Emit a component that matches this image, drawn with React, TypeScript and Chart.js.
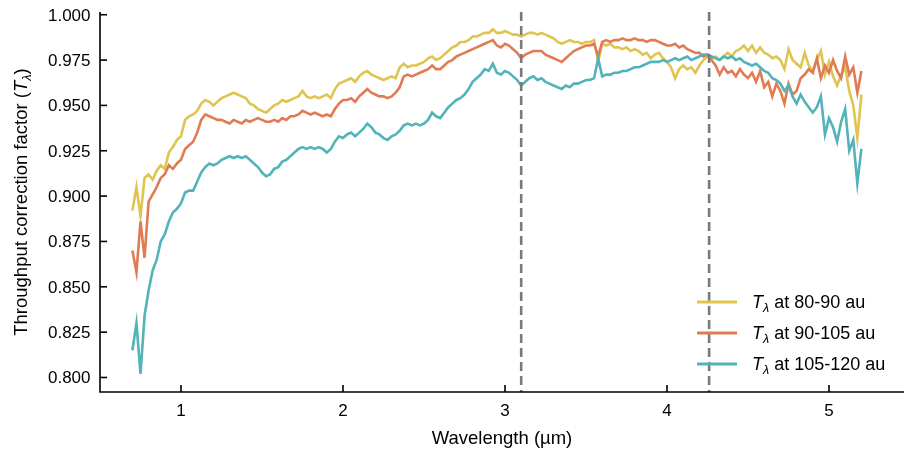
import React, { useEffect, useRef } from "react";
import { Chart, registerables } from "chart.js";

Chart.register(...registerables);

// Shared wavelength grid in µm (0.700 … 5.200, step 0.025)
const WAVELENGTH_START = 0.7;
const WAVELENGTH_STEP = 0.025;
const WAVELENGTH: number[] = Array.from({ length: 181 }, (_, i) =>
  Math.round((WAVELENGTH_START + WAVELENGTH_STEP * i) * 1000) / 1000
);

// Throughput correction factor for the 80-90 au annulus
const T_80_90 = [
  0.892, 0.905, 0.889, 0.910, 0.912, 0.909, 0.914, 0.917, 0.915, 0.924,
  0.927, 0.931, 0.933, 0.942, 0.944, 0.945, 0.947, 0.951, 0.953, 0.952,
  0.950, 0.952, 0.954, 0.955, 0.956, 0.957, 0.956, 0.955, 0.954, 0.951,
  0.950, 0.948, 0.947, 0.946, 0.948, 0.950, 0.951, 0.953, 0.952, 0.953,
  0.954, 0.955, 0.958, 0.955, 0.954, 0.955, 0.954, 0.955, 0.956, 0.954,
  0.959, 0.962, 0.963, 0.964, 0.965, 0.963, 0.966, 0.968, 0.969, 0.967,
  0.966, 0.965, 0.964, 0.965, 0.966, 0.965, 0.971, 0.973, 0.971, 0.972,
  0.972, 0.973, 0.974, 0.976, 0.977, 0.975, 0.976, 0.978, 0.980, 0.982,
  0.983, 0.985, 0.985, 0.986, 0.988, 0.988, 0.989, 0.990, 0.990, 0.992,
  0.990, 0.990, 0.991, 0.990, 0.989, 0.989, 0.988, 0.989, 0.990, 0.990,
  0.989, 0.990, 0.989, 0.988, 0.987, 0.985, 0.984, 0.985, 0.986, 0.985,
  0.985, 0.984, 0.985, 0.985, 0.986, 0.974, 0.984, 0.983, 0.984, 0.982,
  0.982, 0.981, 0.982, 0.980, 0.981, 0.980, 0.978, 0.979, 0.976, 0.978,
  0.979, 0.976, 0.974, 0.971, 0.965, 0.970, 0.972, 0.970, 0.971, 0.968,
  0.972, 0.975, 0.977, 0.976, 0.977, 0.975, 0.977, 0.979, 0.977, 0.980,
  0.981, 0.983, 0.980, 0.983, 0.979, 0.982, 0.979, 0.978, 0.976, 0.977,
  0.975, 0.970, 0.981, 0.975, 0.973, 0.971, 0.979, 0.972, 0.969, 0.975,
  0.980, 0.967, 0.974, 0.966, 0.961, 0.967, 0.971, 0.958, 0.950, 0.932,
  0.956,
];

// Throughput correction factor for the 90-105 au annulus
const T_90_105 = [
  0.870, 0.858, 0.886, 0.866, 0.897, 0.901, 0.905, 0.910, 0.912, 0.917,
  0.915, 0.918, 0.920, 0.926, 0.928, 0.930, 0.935, 0.942, 0.945, 0.944,
  0.943, 0.942, 0.942, 0.941, 0.940, 0.942, 0.941, 0.940, 0.942, 0.941,
  0.942, 0.943, 0.942, 0.941, 0.941, 0.942, 0.941, 0.943, 0.942, 0.944,
  0.944, 0.945, 0.947, 0.946, 0.945, 0.946, 0.945, 0.944, 0.945, 0.944,
  0.948, 0.951, 0.953, 0.953, 0.954, 0.952, 0.955, 0.957, 0.959, 0.957,
  0.956, 0.955, 0.955, 0.954, 0.955, 0.957, 0.960, 0.966, 0.967, 0.966,
  0.967, 0.968, 0.969, 0.970, 0.972, 0.970, 0.970, 0.972, 0.974, 0.975,
  0.977, 0.978, 0.979, 0.980, 0.981, 0.982, 0.983, 0.984, 0.985, 0.986,
  0.983, 0.982, 0.984, 0.983, 0.981, 0.979, 0.976, 0.978, 0.979, 0.980,
  0.980, 0.980, 0.978, 0.977, 0.976, 0.975, 0.974, 0.976, 0.978, 0.980,
  0.981, 0.982, 0.983, 0.983, 0.984, 0.977, 0.985, 0.986, 0.985, 0.986,
  0.986, 0.987, 0.986, 0.986, 0.987, 0.986, 0.986, 0.985, 0.986, 0.986,
  0.985, 0.984, 0.983, 0.983, 0.984, 0.982, 0.983, 0.981, 0.980, 0.979,
  0.979, 0.977, 0.978, 0.975, 0.972, 0.967, 0.971, 0.968, 0.969, 0.966,
  0.970, 0.967, 0.965, 0.968, 0.963, 0.969, 0.960, 0.963, 0.955, 0.962,
  0.958, 0.951, 0.962, 0.956, 0.958, 0.965, 0.967, 0.970, 0.968, 0.976,
  0.965, 0.972, 0.968, 0.975, 0.969, 0.965, 0.977, 0.967, 0.971, 0.957,
  0.969,
];

// Throughput correction factor for the 105-120 au annulus
const T_105_120 = [
  0.815, 0.830, 0.802, 0.834, 0.848, 0.859, 0.865, 0.875, 0.879, 0.886,
  0.891, 0.893, 0.896, 0.902, 0.903, 0.903, 0.908, 0.913, 0.916, 0.918,
  0.917, 0.918, 0.920, 0.921, 0.922, 0.921, 0.922, 0.921, 0.922, 0.920,
  0.918, 0.916, 0.913, 0.911, 0.912, 0.915, 0.916, 0.919, 0.920, 0.922,
  0.924, 0.926, 0.927, 0.926, 0.927, 0.926, 0.927, 0.926, 0.924, 0.926,
  0.930, 0.933, 0.932, 0.934, 0.935, 0.933, 0.935, 0.937, 0.940, 0.938,
  0.935, 0.934, 0.932, 0.931, 0.933, 0.934, 0.936, 0.939, 0.940, 0.939,
  0.940, 0.939, 0.940, 0.942, 0.946, 0.944, 0.943, 0.946, 0.949, 0.951,
  0.953, 0.954, 0.956, 0.959, 0.963, 0.965, 0.967, 0.970, 0.969, 0.973,
  0.968, 0.967, 0.969, 0.968, 0.966, 0.964, 0.961, 0.963, 0.965, 0.966,
  0.964, 0.965, 0.963, 0.962, 0.961, 0.960, 0.959, 0.961, 0.960, 0.962,
  0.962, 0.963, 0.964, 0.964, 0.965, 0.976, 0.966, 0.967, 0.967, 0.968,
  0.968, 0.969, 0.969, 0.970, 0.971, 0.971, 0.972, 0.973, 0.974, 0.974,
  0.974, 0.975, 0.974, 0.975, 0.976, 0.975, 0.976, 0.977, 0.975, 0.976,
  0.977, 0.978, 0.978, 0.977, 0.976, 0.975, 0.977, 0.976, 0.977, 0.975,
  0.976, 0.974, 0.973, 0.972, 0.973, 0.971, 0.969, 0.968, 0.965, 0.964,
  0.962, 0.958, 0.961, 0.955, 0.951, 0.956, 0.952, 0.949, 0.946, 0.949,
  0.955, 0.934, 0.943, 0.938, 0.930, 0.941, 0.948, 0.925, 0.931, 0.907,
  0.926,
];

const SERIES_VALUES = [T_80_90, T_90_105, T_105_120];
const SERIES_RANGES = ["80-90 au", "90-105 au", "105-120 au"];
const SERIES_COLORS = ["#dfc550", "#e07b53", "#52b3b9"];

// Dashed vertical guides (µm)
const MARKER_WAVELENGTHS = [3.1, 4.26];

const X_TICKS = [1, 2, 3, 4, 5];
const Y_TICKS = [0.8, 0.825, 0.85, 0.875, 0.9, 0.925, 0.95, 0.975, 1.0];
const X_LIMITS = [0.5, 5.463];
const Y_LIMITS = [0.792, 1.0015];

const X_TITLE = "Wavelength (µm)";
const Y_TITLE_BEFORE = "Throughput correction factor (";
const Y_TITLE_AFTER = ")";

const FONT = '"Liberation Sans", Arial, Helvetica, sans-serif';
const TICK_SIZE = 17;
const TITLE_SIZE = 18.5;
const LEGEND_SIZE = 18;

// Draws "Tλ" (italic T with a lowered λ) and returns the new x position
function drawTLambda(ctx: CanvasRenderingContext2D, x: number, y: number, size: number) {
  ctx.font = `italic ${size}px ${FONT}`;
  ctx.fillText("T", x, y);
  x += ctx.measureText("T").width;
  const sub = size * 0.7;
  ctx.font = `italic ${sub}px ${FONT}`;
  ctx.fillText("λ", x, y + size * 0.22);
  x += ctx.measureText("λ").width;
  return x;
}

function measureTLambda(ctx: CanvasRenderingContext2D, size: number) {
  ctx.font = `italic ${size}px ${FONT}`;
  let w = ctx.measureText("T").width;
  ctx.font = `italic ${size * 0.7}px ${FONT}`;
  w += ctx.measureText("λ").width;
  return w;
}

const decorations = {
  id: "decorations",
  afterDatasetsDraw(chart: any) {
    const { ctx, chartArea: area } = chart;
    const xs = chart.scales.x;
    const ys = chart.scales.y;
    ctx.save();

    // dashed guides
    ctx.strokeStyle = "#7a7a7a";
    ctx.lineWidth = 2.6;
    ctx.setLineDash([9, 5]);
    for (const w of MARKER_WAVELENGTHS) {
      const px = xs.getPixelForValue(w);
      ctx.beginPath();
      ctx.moveTo(px, area.top);
      ctx.lineTo(px, area.bottom);
      ctx.stroke();
    }
    ctx.setLineDash([]);

    // legend (lower right, no frame)
    const legendX = 697;
    const legendTop = 302;
    const rowGap = 31;
    ctx.fillStyle = "#000";
    ctx.textAlign = "left";
    ctx.textBaseline = "alphabetic";
    chart.data.datasets.forEach((ds: any, k: number) => {
      const y = legendTop + k * rowGap;
      ctx.strokeStyle = ds.borderColor;
      ctx.lineWidth = 2.8;
      ctx.beginPath();
      ctx.moveTo(legendX, y);
      ctx.lineTo(legendX + 40, y);
      ctx.stroke();
      const tx = drawTLambda(ctx, legendX + 55, y + 6, LEGEND_SIZE);
      ctx.font = `${LEGEND_SIZE}px ${FONT}`;
      ctx.fillText(` at ${SERIES_RANGES[k]}`, tx, y + 6);
    });

    // spines (left and bottom only)
    ctx.strokeStyle = "#000";
    ctx.lineWidth = 1.6;
    ctx.beginPath();
    ctx.moveTo(area.left, area.top);
    ctx.lineTo(area.left, area.bottom);
    ctx.lineTo(area.right, area.bottom);
    ctx.stroke();

    // inward tick marks
    for (const v of Y_TICKS) {
      const py = ys.getPixelForValue(v);
      ctx.beginPath();
      ctx.moveTo(area.left, py);
      ctx.lineTo(area.left + 7, py);
      ctx.stroke();
    }
    for (const v of X_TICKS) {
      const px = xs.getPixelForValue(v);
      ctx.beginPath();
      ctx.moveTo(px, area.bottom);
      ctx.lineTo(px, area.bottom - 7);
      ctx.stroke();
    }

    // tick labels
    ctx.fillStyle = "#000";
    ctx.font = `${TICK_SIZE}px ${FONT}`;
    ctx.textAlign = "right";
    for (const v of Y_TICKS) {
      const py = ys.getPixelForValue(v);
      ctx.fillText(v.toFixed(3), area.left - 9.5, py + 6);
    }
    ctx.textAlign = "center";
    for (const v of X_TICKS) {
      const px = xs.getPixelForValue(v);
      ctx.fillText(String(v), px, area.bottom + 24);
    }

    // x title
    ctx.font = `${TITLE_SIZE}px ${FONT}`;
    ctx.textAlign = "center";
    ctx.fillText(X_TITLE, (area.left + area.right) / 2, area.bottom + 52);

    // y title, rotated
    ctx.save();
    ctx.translate(27, (area.top + area.bottom) / 2);
    ctx.rotate(-Math.PI / 2);
    ctx.textAlign = "left";
    ctx.font = `${TITLE_SIZE}px ${FONT}`;
    const wBefore = ctx.measureText(Y_TITLE_BEFORE).width;
    const wAfter = ctx.measureText(Y_TITLE_AFTER).width;
    const wT = measureTLambda(ctx, TITLE_SIZE);
    let x = -(wBefore + wT + wAfter) / 2;
    ctx.font = `${TITLE_SIZE}px ${FONT}`;
    ctx.fillText(Y_TITLE_BEFORE, x, 0);
    x += wBefore;
    x = drawTLambda(ctx, x, 0, TITLE_SIZE);
    ctx.font = `${TITLE_SIZE}px ${FONT}`;
    ctx.fillText(Y_TITLE_AFTER, x, 0);
    ctx.restore();

    ctx.restore();
  },
};

export default function App() {
  const canvasRef = useRef<HTMLCanvasElement | null>(null);

  useEffect(() => {
    document.body.style.margin = "0";
    const canvas = canvasRef.current;
    if (!canvas) return;

    const datasets = SERIES_VALUES.map((values, k) => ({
      label: `Tλ at ${SERIES_RANGES[k]}`,
      data: WAVELENGTH.map((w, i) => ({ x: w, y: values[i] })),
      borderColor: SERIES_COLORS[k],
      backgroundColor: SERIES_COLORS[k],
      borderWidth: 2.6,
      pointRadius: 0,
      tension: 0,
      fill: false,
      // later series are drawn on top
      order: SERIES_VALUES.length - k,
    }));

    const chart = new Chart(canvas, {
      type: "line",
      data: { datasets },
      options: {
        responsive: false,
        animation: false,
        devicePixelRatio: 1,
        layout: { padding: { left: 100, top: 12, right: 0, bottom: 60 } },
        plugins: {
          legend: { display: false },
          tooltip: { enabled: false },
        },
        scales: {
          x: { type: "linear", display: false, min: X_LIMITS[0], max: X_LIMITS[1] },
          y: { type: "linear", display: false, min: Y_LIMITS[0], max: Y_LIMITS[1] },
        },
      },
      plugins: [decorations],
    });

    return () => chart.destroy();
  }, []);

  return (
    <div style={{ width: 904, height: 452, background: "#fff" }}>
      <canvas ref={canvasRef} width={904} height={452} style={{ display: "block" }} />
    </div>
  );
}
